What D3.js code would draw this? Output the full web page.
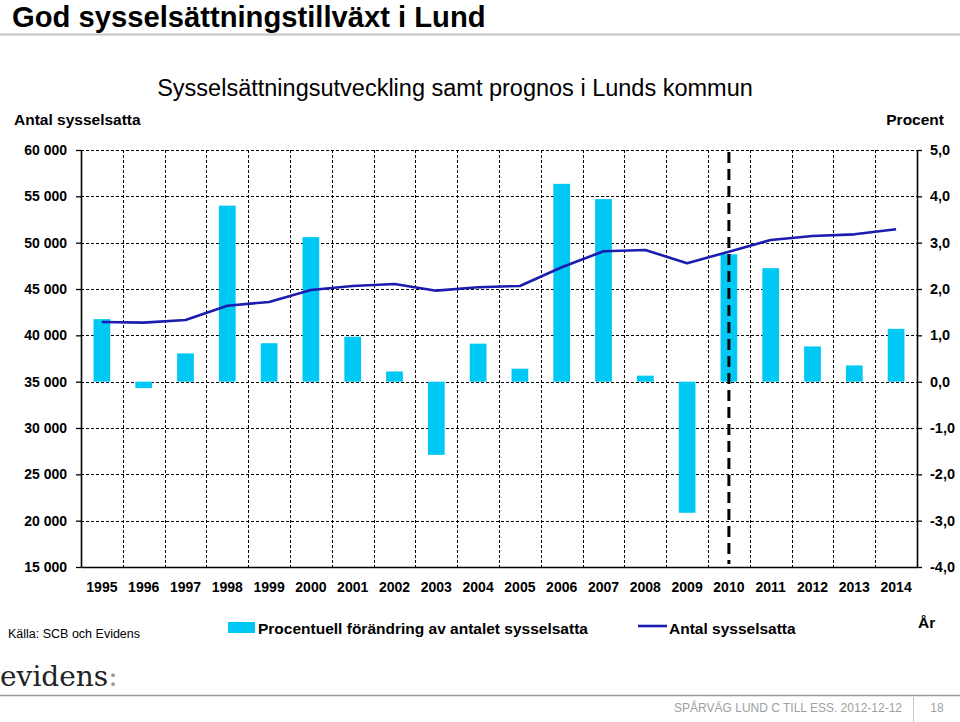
<!DOCTYPE html>
<html><head><meta charset="utf-8">
<script src="https://cdn.jsdelivr.net/npm/d3@7"></script>
<style>
html,body{margin:0;padding:0;background:#fff;}
svg{display:block;font-family:"Liberation Sans",Arial,sans-serif;}
</style></head>
<body>
<svg id="c" width="960" height="722"></svg>
<script>
const years = ["1995","1996","1997","1998","1999","2000","2001","2002","2003","2004","2005","2006","2007","2008","2009","2010","2011","2012","2013","2014"];
const pctChange = [1.35,-0.14,0.61,3.80,0.83,3.12,0.97,0.22,-1.58,0.82,0.28,4.27,3.94,0.13,-2.83,2.75,2.45,0.76,0.35,1.14];
const employed = [41440,41370,41660,43200,43600,44900,45330,45540,44820,45190,45330,47350,49070,49210,47780,49030,50290,50720,50900,51440];
const leftTicks = [15000,20000,25000,30000,35000,40000,45000,50000,55000,60000];
const rightTicks = [-4,-3,-2,-1,0,1,2,3,4,5];
const forecastStart = "2010";

const svg = d3.select("#c");
const L = 81, R = 917, T = 150, B = 567;
const barColor = "#00C8F5", lineColor = "#1C1CB0";

const x = d3.scaleBand().domain(years).range([L, R]);
const bw = x.bandwidth();
const yR = d3.scaleLinear().domain([-4, 5]).range([B, T]);
const yL = d3.scaleLinear().domain([15000, 60000]).range([B, T]);

// Page title
svg.append("text").attr("x", 12).attr("y", 26.5).attr("font-size", 29.2).attr("font-weight", "bold").attr("fill", "#000")
  .text("God sysselsättningstillväxt i Lund");
svg.append("line").attr("x1", 0).attr("x2", 960).attr("y1", 34.5).attr("y2", 34.5).attr("stroke", "#c4c4c4").attr("stroke-width", 2);

// Chart title
svg.append("text").attr("x", 455).attr("y", 96).attr("text-anchor", "middle").attr("font-size", 23.5).attr("fill", "#000")
  .text("Sysselsättningsutveckling samt prognos i Lunds kommun");
svg.append("text").attr("x", 14).attr("y", 125).attr("font-size", 15.5).attr("font-weight", "bold").text("Antal sysselsatta");
svg.append("text").attr("x", 944).attr("y", 125).attr("text-anchor", "end").attr("font-size", 15.5).attr("font-weight", "bold").text("Procent");

// Gridlines
const grid = svg.append("g").attr("stroke", "#000").attr("stroke-width", 1).attr("stroke-dasharray", "3,2");
grid.selectAll("line.h").data(rightTicks.filter(t => t > -4)).join("line")
  .attr("x1", L).attr("x2", R).attr("y1", d => Math.round(yR(d)) + 0.5).attr("y2", d => Math.round(yR(d)) + 0.5);
grid.selectAll("line.v").data(years.slice(1)).join("line")
  .attr("x1", d => Math.round(x(d)) + 0.5).attr("x2", d => Math.round(x(d)) + 0.5).attr("y1", T).attr("y2", B);

// Bars
svg.append("g").selectAll("rect").data(years).join("rect")
  .attr("x", (d) => x(d) + bw * 0.3)
  .attr("width", bw * 0.4)
  .attr("y", (d, i) => yR(Math.max(0, pctChange[i])))
  .attr("height", (d, i) => Math.abs(yR(pctChange[i]) - yR(0)))
  .attr("fill", barColor);

// Forecast divider
svg.append("line").attr("x1", x(forecastStart) + bw / 2).attr("x2", x(forecastStart) + bw / 2)
  .attr("y1", T + 2).attr("y2", B - 3).attr("stroke", "#000").attr("stroke-width", 3).attr("stroke-dasharray", "11,6");

// Line
const line = d3.line().x(d => x(d.year) + bw / 2).y(d => yL(d.v));
svg.append("path").datum(years.map((y, i) => ({ year: y, v: employed[i] })))
  .attr("d", line).attr("fill", "none").attr("stroke", lineColor).attr("stroke-width", 2.6).attr("stroke-linejoin", "round");

// Axes
const fmtL = v => d3.format(",")(v).replace(/,/g, " ");
const fmtR = v => v.toFixed(1).replace(".", ",");
const gl = svg.append("g").attr("transform", `translate(${L},0)`)
  .call(d3.axisLeft(yL).tickValues(leftTicks).tickFormat(fmtL).tickSize(5).tickPadding(9).tickSizeOuter(0));
const gr = svg.append("g").attr("transform", `translate(${R},0)`)
  .call(d3.axisRight(yR).tickValues(rightTicks).tickFormat(fmtR).tickSize(5).tickPadding(8).tickSizeOuter(0));
const gb = svg.append("g").attr("transform", `translate(0,${B})`)
  .call(d3.axisBottom(x).tickSize(0).tickPadding(15).tickSizeOuter(0));
[gl, gr, gb].forEach(g => {
  g.selectAll("path.domain").attr("stroke", "#000").attr("stroke-width", 1.6);
  g.selectAll(".tick line").attr("stroke", "#000").attr("stroke-width", 1.3);
  g.selectAll("text").attr("font-family", "Liberation Sans, Arial, sans-serif").attr("font-size", 14).attr("font-weight", "bold").attr("fill", "#000");
});
gr.selectAll("text").attr("font-size", 14.5);

// Legend & notes
svg.append("text").attr("x", 8).attr("y", 638).attr("font-size", 12.5)
  .attr("font-family", "Liberation Sans Narrow, Liberation Sans, Arial, sans-serif").attr("fill", "#000").text("Källa: SCB och Evidens");
svg.append("rect").attr("x", 228).attr("y", 622).attr("width", 27).attr("height", 11).attr("fill", barColor);
svg.append("text").attr("x", 258).attr("y", 634).attr("font-size", 15.5).attr("font-weight", "bold").text("Procentuell förändring av antalet sysselsatta");
svg.append("line").attr("x1", 638).attr("x2", 667).attr("y1", 626).attr("y2", 626).attr("stroke", lineColor).attr("stroke-width", 2.6);
svg.append("text").attr("x", 669).attr("y", 634).attr("font-size", 15.5).attr("font-weight", "bold").text("Antal sysselsatta");
svg.append("text").attr("x", 918).attr("y", 628).attr("font-size", 15.5).attr("font-weight", "bold").text("År");

// Footer
const logo = svg.append("text").attr("x", 0).attr("y", 686).attr("font-family", "DejaVu Serif, serif").attr("font-size", 28).attr("fill", "#222");
logo.append("tspan").text("evidens");
logo.append("tspan").attr("fill", "#999").text(":");
svg.append("line").attr("x1", 0).attr("x2", 960).attr("y1", 695.5).attr("y2", 695.5).attr("stroke", "#9a9a9a").attr("stroke-width", 1.5);
svg.append("line").attr("x1", 913.5).attr("x2", 913.5).attr("y1", 697).attr("y2", 722).attr("stroke", "#c8c8c8").attr("stroke-width", 1);
svg.append("text").attr("x", 902).attr("y", 712).attr("text-anchor", "end").attr("font-size", 12).attr("fill", "#a0a0a0").text("SPÅRVÄG LUND C TILL ESS. 2012-12-12");
svg.append("text").attr("x", 937).attr("y", 712).attr("text-anchor", "middle").attr("font-size", 12).attr("fill", "#a0a0a0").text("18");
</script>
</body></html>
